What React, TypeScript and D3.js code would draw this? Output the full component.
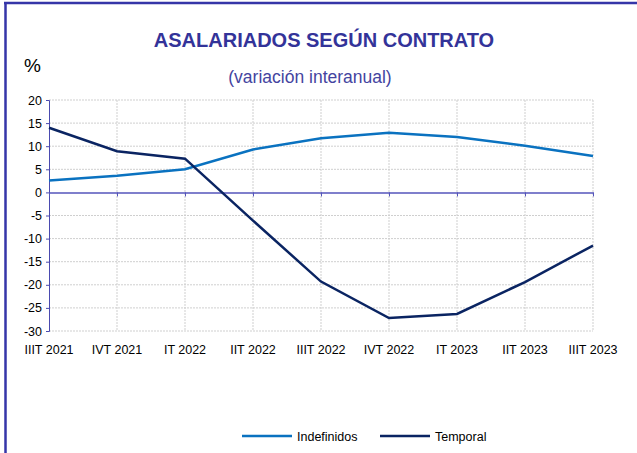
import * as d3 from 'd3';
import React, { useRef, useEffect } from 'react';

const categories = ['IIIT 2021', 'IVT 2021', 'IT 2022', 'IIT 2022', 'IIIT 2022', 'IVT 2022', 'IT 2023', 'IIT 2023', 'IIIT 2023'];
const indefinidos = [2.6, 3.6, 5.0, 9.3, 11.7, 12.9, 12.0, 10.1, 7.9];
const temporal = [14.0, 8.9, 7.3, -6.1, -19.3, -27.2, -26.3, -19.4, -11.5];
const yTicks = [20, 15, 10, 5, 0, -5, -10, -15, -20, -25, -30];

const W = 637;
const H = 453;

const App = () => {
    const ref = useRef(null);

    useEffect(() => {
        const svg = d3.select(ref.current);
        svg.selectAll('*').remove();

        const font = 'Liberation Sans, Arial, sans-serif';
        const frame = '#3535a8';

        // outer frame (only top and left are visible)
        svg.append('line').attr('x1', 4).attr('x2', W).attr('y1', 3).attr('y2', 3)
            .attr('stroke', frame).attr('stroke-width', 2.5);
        svg.append('line').attr('x1', 5.5).attr('x2', 5.5).attr('y1', 2).attr('y2', H)
            .attr('stroke', frame).attr('stroke-width', 2.5);

        // titles
        svg.append('text').attr('x', 324).attr('y', 47).attr('text-anchor', 'middle')
            .attr('font-family', font).attr('font-weight', 'bold').attr('font-size', 20)
            .attr('fill', '#333399').text('ASALARIADOS SEGÚN CONTRATO');
        svg.append('text').attr('x', 310).attr('y', 83).attr('text-anchor', 'middle')
            .attr('font-family', font).attr('font-size', 17.5)
            .attr('fill', '#4444a0').text('(variación interanual)');
        svg.append('text').attr('x', 24).attr('y', 72)
            .attr('font-family', font).attr('font-size', 19)
            .attr('fill', '#000').text('%');

        const x = d3.scalePoint().domain(categories).range([49, 593]);
        const y = d3.scaleLinear().domain([-30, 20]).range([331, 100]);

        const g = svg.append('g');

        // grid
        g.selectAll('.hgrid').data(yTicks.filter(d => d !== 0)).enter().append('line')
            .attr('x1', 49).attr('x2', 593)
            .attr('y1', d => y(d)).attr('y2', d => y(d))
            .attr('stroke', '#cfcfcf').attr('stroke-width', 1).attr('stroke-dasharray', '2,1');
        g.selectAll('.vgrid').data(categories.slice(1)).enter().append('line')
            .attr('x1', d => x(d)).attr('x2', d => x(d))
            .attr('y1', 100).attr('y2', 331)
            .attr('stroke', '#cfcfcf').attr('stroke-width', 1).attr('stroke-dasharray', '2,1');

        // y axis
        const yAxis = d3.axisLeft(y).tickValues(yTicks).tickSize(3).tickPadding(4).tickFormat(d => String(d));
        const ya = g.append('g').attr('transform', 'translate(49,0)').call(yAxis);
        ya.select('.domain').attr('stroke', '#4a4ab0');
        ya.selectAll('.tick line').attr('stroke', '#4a4ab0');
        ya.selectAll('.tick text').attr('font-family', font).attr('font-size', 12.5).attr('fill', '#000');

        // zero line with ticks downward
        const xAxis = d3.axisBottom(x).tickSize(4).tickSizeOuter(0).tickFormat(() => '');
        const xa = g.append('g').attr('transform', `translate(0,${y(0)})`).call(xAxis);
        xa.select('.domain').attr('stroke', '#5555bb').attr('stroke-width', 1.5);
        xa.selectAll('.tick line').attr('stroke', '#5555bb');

        // category labels at bottom
        g.selectAll('.xlab').data(categories).enter().append('text')
            .attr('x', d => x(d)).attr('y', 354).attr('text-anchor', 'middle')
            .attr('font-family', font).attr('font-size', 12.5).attr('fill', '#000')
            .text(d => d);

        const line = d3.line<number>().x((d, i) => x(categories[i])).y(d => y(d));
        g.append('path').datum(indefinidos).attr('d', line)
            .attr('fill', 'none').attr('stroke', '#0a72c0').attr('stroke-width', 2.5);
        g.append('path').datum(temporal).attr('d', line)
            .attr('fill', 'none').attr('stroke', '#0a2462').attr('stroke-width', 2.5);

        // legend
        const legend = [
            { name: 'Indefinidos', color: '#0a72c0', x: 242 },
            { name: 'Temporal', color: '#0a2462', x: 380 },
        ];
        const lg = svg.selectAll('.leg').data(legend).enter().append('g');
        lg.append('line').attr('x1', d => d.x).attr('x2', d => d.x + 50)
            .attr('y1', 436).attr('y2', 436)
            .attr('stroke', d => d.color).attr('stroke-width', 2.5);
        lg.append('text').attr('x', d => d.x + 55).attr('y', 440.5)
            .attr('font-family', font).attr('font-size', 12.5).attr('fill', '#000')
            .text(d => d.name);
    }, []);

    return (
        <svg ref={ref} width={W} height={H} style={{ position: 'absolute', left: 0, top: 0, background: '#fff' }} />
    );
};

export default App;
